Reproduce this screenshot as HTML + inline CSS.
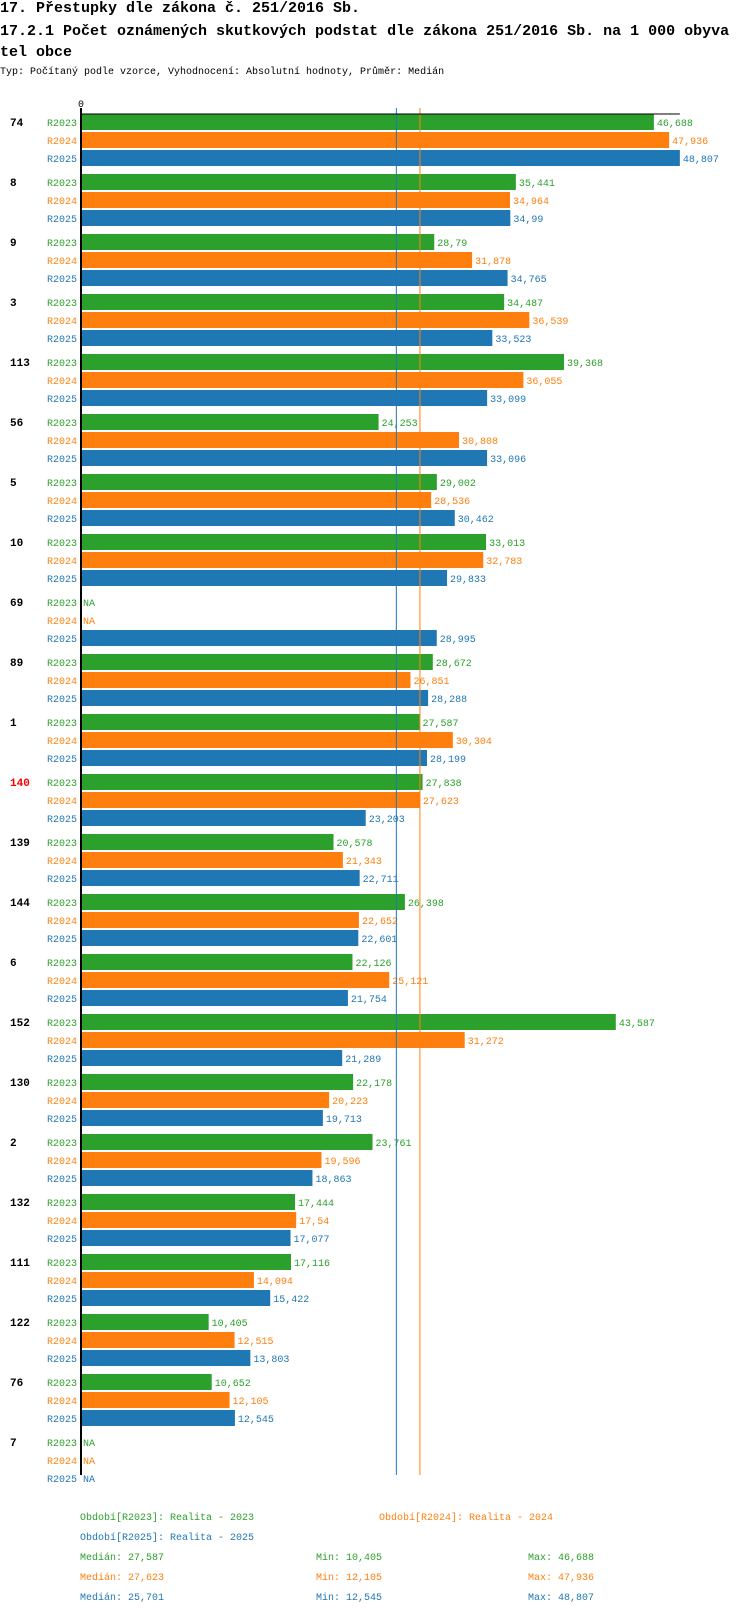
<!DOCTYPE html>
<html><head><meta charset="utf-8">
<style>
body{margin:0;background:#fff;width:750px;height:1614px;overflow:hidden;font-family:"Liberation Mono",monospace;}
.t{position:absolute;left:0;font-weight:bold;font-size:15px;white-space:pre;color:#000;}
.s{position:absolute;left:0;font-size:10px;white-space:pre;}
svg{position:absolute;left:0;top:0;}
</style></head><body>
<div class="t" style="top:0px">17. Přestupky dle zákona č. 251/2016 Sb.</div>
<div class="t" style="top:21px;line-height:21px;width:745px;white-space:normal">17.2.1 Počet oznámených skutkových podstat dle zákona 251/2016 Sb. na 1 000 obyva tel obce</div>
<div class="s" style="top:67px">Typ: Počítaný podle vzorce, Vyhodnocení: Absolutní hodnoty, Průměr: Medián</div>
<svg id="chart" width="750" height="1614" font-family="Liberation Mono, monospace"></svg>
<script>
const categories=["74","8","9","3","113","56","5","10","69","89","1","140","139","144","6","152","130","2","132","111","122","76","7"];
const r2023=[46.688,35.441,28.79,34.487,39.368,24.253,29.002,33.013,null,28.672,27.587,27.838,20.578,26.398,22.126,43.587,22.178,23.761,17.444,17.116,10.405,10.652,null];
const r2024=[47.936,34.964,31.878,36.539,36.055,30.808,28.536,32.783,null,26.851,30.304,27.623,21.343,22.652,25.121,31.272,20.223,19.596,17.54,14.094,12.515,12.105,null];
const r2025=[48.807,34.99,34.765,33.523,33.099,33.096,30.462,29.833,28.995,28.288,28.199,23.203,22.711,22.601,21.754,21.289,19.713,18.863,17.077,15.422,13.803,12.545,null];
const seriesNames=["R2023","R2024","R2025"];
const medians=[27.587,27.623,25.701];
const mins=[10.405,12.105,12.545];
const maxs=[46.688,47.936,48.807];
const highlighted=["140"];

const colors=["#2ca02c","#ff7f0e","#1f77b4"];
const series=[r2023,r2024,r2025];
const svg=document.getElementById('chart');
const NS='http://www.w3.org/2000/svg';
const x0=81, scale=12.27;
const xs=v=>x0+v*scale;
const gTop=114, gStep=60, rStep=18, barH=16;
const fmt=v=>String(v).replace('.',',');
function mk(tag,attrs,text){const e=document.createElementNS(NS,tag);for(const k in attrs)e.setAttribute(k,attrs[k]);if(text!==undefined)e.textContent=text;svg.appendChild(e);return e;}
const axisBottom=gTop+categories.length*gStep-19;
// tick 0
let t=mk('text',{x:x0,y:107,'font-size':10,'text-anchor':'middle'},'0');


categories.forEach((c,i)=>{
  const top=gTop+i*gStep;
  const cl=mk('text',{x:10,y:top+12,'font-size':11,'font-weight':'bold',fill:highlighted.includes(c)?'#ff0000':'#000'},c);
  
  
  series.forEach((s,j)=>{
    const y=top+j*rStep;
    const lab=mk('text',{x:77,y:y+12,'font-size':10,'text-anchor':'end',fill:colors[j]},seriesNames[j]);
    
    
    const v=s[i];
    if(v===null){
      const na=mk('text',{x:x0+2,y:y+12,'font-size':10,fill:colors[j]},'NA');
      
      
    } else {
      const b=mk('rect',{x:x0,y:y,width:xs(v)-x0,height:barH,fill:colors[j]});
      
      
      const vl=mk('text',{x:xs(v)+3,y:y+12,'font-size':10,fill:colors[j]},fmt(v));
      
      
    }
  });
});
// median lines
[2,1].forEach(j=>{
  const l=mk('line',{x1:xs(medians[j]),x2:xs(medians[j]),y1:108,y2:axisBottom,stroke:colors[j],'stroke-width':1});
  
  
});
let ax=mk('line',{x1:x0,x2:x0,y1:108,y2:axisBottom,stroke:'#000','stroke-width':2});


let tx=mk('line',{x1:x0,x2:xs(maxs[2]),y1:114,y2:114,stroke:'#000','stroke-width':1});


// legend
const legPos=[[80,1520],[379,1520],[80,1540]];
seriesNames.forEach((n,j)=>{
  const e=mk('text',{x:legPos[j][0],y:legPos[j][1],'font-size':10,fill:colors[j]},'Období['+n+']: Realita - '+n.slice(1));
  
  
  const yy=1560+j*20;
  const a=mk('text',{x:80,y:yy,'font-size':10,fill:colors[j]},'Medián: '+fmt(medians[j]));
  
  
  const b=mk('text',{x:316,y:yy,'font-size':10,fill:colors[j]},'Min: '+fmt(mins[j]));
  
  
  const c=mk('text',{x:528,y:yy,'font-size':10,fill:colors[j]},'Max: '+fmt(maxs[j]));
  
  
});
</script>
</body></html>
